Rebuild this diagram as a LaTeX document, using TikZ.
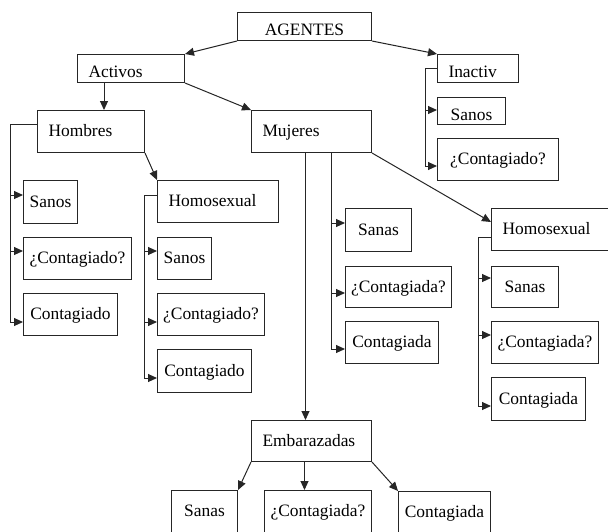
\documentclass[tikz,border=0pt]{standalone}
\usepackage{fontspec}
\setmainfont{Liberation Serif}
\usepackage{tikz}
\usetikzlibrary{arrows.meta,calc}

\begin{document}
\begin{tikzpicture}[x=1pt, y=-1pt]
            \tikzstyle{every node}+=[inner sep=0pt, font=\fontsize{17.4}{20}\selectfont]
            \tikzstyle{caja}=[draw=black!85, line width=1pt, anchor=north west, text height=11pt, text depth=1pt]
            \tikzstyle{corta}=[text height=18pt, text depth=0pt]
            \tikzstyle{izq}=[align=left, inner xsep=11pt]
            \tikzstyle{flecha}=[draw=black!85, line width=1pt, -{Triangle[length=9pt,width=8pt]}]
            \tikzstyle{linea}=[draw=black!85, line width=1pt]
            \useasboundingbox (0,0) rectangle (608,531);
            \clip (0,0) rectangle (608,531);
            \node [caja, corta, minimum width=134, minimum height=28] (agentes) at (237,12) {AGENTES};
            \node [caja, corta, izq, text width=85, minimum height=28] (activos) at (77,54) {Activos};
            \node [caja, corta, izq, text width=59, minimum height=28] (inactiv) at (437,54) {Inactiv};
            \node [caja, corta, minimum width=68, minimum height=27] (sanosI) at (437,97) {Sanos};
            \node [caja, minimum width=121, minimum height=42] (contI) at (437,138) {¿Contagiado?};
            \node [caja, izq, text width=85, minimum height=42] (hombres) at (37,110) {Hombres};
            \node [caja, izq, text width=98, minimum height=42] (mujeres) at (251,110) {Mujeres};
            \node [caja, minimum width=54, minimum height=43] (sanosH) at (23,180) {Sanos};
            \node [caja, minimum width=108, minimum height=42] (contH) at (23,237) {¿Contagiado?};
            \node [caja, minimum width=94, minimum height=42] (cH) at (23,293) {Contagiado};
            \node [caja, izq, text width=99, minimum height=42] (homH) at (157,180) {Homosexual};
            \node [caja, minimum width=54, minimum height=42] (sanosHH) at (157,237) {Sanos};
            \node [caja, minimum width=107, minimum height=42] (contHH) at (157,293) {¿Contagiado?};
            \node [caja, minimum width=94, minimum height=43] (cHH) at (157,349) {Contagiado};
            \node [caja, minimum width=66, minimum height=43] (sanasM) at (345,208) {Sanas};
            \node [caja, minimum width=106, minimum height=41] (contM) at (345,266) {¿Contagiada?};
            \node [caja, minimum width=93, minimum height=42] (cM) at (345,321) {Contagiada};
            \node [caja, izq, text width=99, minimum height=42] (homM) at (491,208) {Homosexual};
            \node [caja, minimum width=67, minimum height=41] (sanasMH) at (491,266) {Sanas};
            \node [caja, minimum width=107, minimum height=42] (contMH) at (491,321) {¿Contagiada?};
            \node [caja, minimum width=94, minimum height=43] (cMH) at (491,377) {Contagiada};
            \node [caja, izq, text width=98, minimum height=41] (emb) at (251,420) {Embarazadas};
            \node [caja, minimum width=66, minimum height=42] (sanasE) at (171,490) {Sanas};
            \node [caja, minimum width=107, minimum height=42] (contE) at (264,490) {¿Contagiada?};
            \node [caja, minimum width=92, minimum height=42] (cE) at (398,491) {Contagiada};
            \draw [flecha] (agentes.south west) -- (activos.north east);
            \draw [flecha] (agentes.south east) -- (inactiv.north west);
            \draw [flecha] ([xshift=27pt]activos.south west) -- ([xshift=27pt]activos.south west |- hombres.north);
            \draw [flecha] (activos.south east) -- (mujeres.north west);
            \draw [flecha] (hombres.south east) -- (homH.north west);
            \draw [flecha] (mujeres.south east) -- ([yshift=-14pt]homM.north west);
            \draw [flecha] ([xshift=-6pt]mujeres.south) -- ([xshift=-6pt]mujeres.south |- emb.north);
            \draw [flecha] (emb.south west) -- (sanasE.north east);
            \draw [flecha] ([xshift=-7pt]emb.south) -- ([xshift=-7pt]emb.south |- contE.north);
            \draw [flecha] (emb.south east) -- (cE.north west);
            \draw [linea] (inactiv.west) -- ++(-12,0) coordinate (ramaI);
            \draw [flecha] (ramaI) |- ($(sanosI.north west)+(0,13)$);
            \draw [flecha] (ramaI) |- ($(contI.north west)+(0,28)$);
            \draw [linea] ($(hombres.north west)+(0,14)$) -- ++(-27,0) coordinate (ramaH);
            \draw [flecha] (ramaH) |- ($(sanosH.north west)+(0,15)$);
            \draw [flecha] (ramaH) |- ($(contH.north west)+(0,14)$);
            \draw [flecha] (ramaH) |- ($(cH.north west)+(0,29)$);
            \draw [linea] ($(homH.north west)+(0,15)$) -- ++(-13,0) coordinate (ramaHH);
            \draw [flecha] (ramaHH) |- ($(sanosHH.north west)+(0,14)$);
            \draw [flecha] (ramaHH) |- ($(contHH.north west)+(0,29)$);
            \draw [flecha] (ramaHH) |- ($(cHH.north west)+(0,29)$);
            \coordinate (ramaM) at ($(mujeres.south west)+(80,0)$);
            \draw [flecha] (ramaM) |- ($(sanasM.north west)+(0,15)$);
            \draw [flecha] (ramaM) |- ($(contM.north west)+(0,27)$);
            \draw [flecha] (ramaM) |- ($(cM.north west)+(0,28)$);
            \draw [linea] ($(homM.north west)+(0,29)$) -- ++(-13,0) coordinate (ramaMH);
            \draw [flecha] (ramaMH) |- ($(sanasMH.north west)+(0,12)$);
            \draw [flecha] (ramaMH) |- ($(contMH.north west)+(0,14)$);
            \draw [flecha] (ramaMH) |- ($(cMH.north west)+(0,29)$);
        \end{tikzpicture}
\end{document}
